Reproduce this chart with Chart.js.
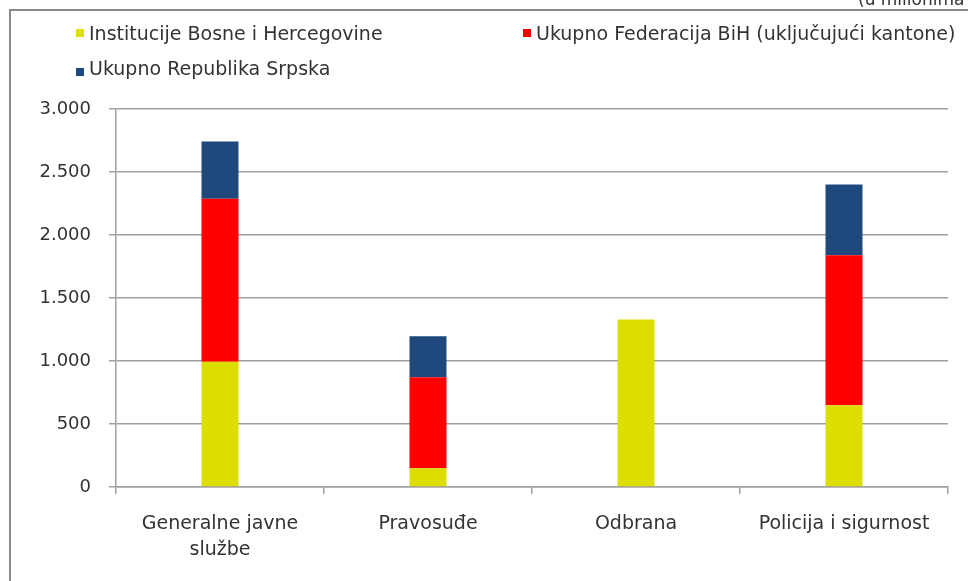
<!DOCTYPE html>
<html>
<head>
<meta charset="utf-8">
<script src="https://cdn.jsdelivr.net/npm/chart.js@4/dist/chart.umd.min.js"></script>
<style>
  html, body { margin: 0; padding: 0; background: #fff; }
  #wrap { position: relative; width: 968px; height: 581px; }
</style>
</head>
<body>
<div id="wrap"><canvas id="c" width="968" height="581"></canvas></div>
<script>
// ---- data ----
const categories = [['Generalne javne', 'službe'], 'Pravosuđe', 'Odbrana', 'Policija i sigurnost'];
const seriesNames = ['Institucije Bosne i Hercegovine', 'Ukupno Federacija BiH (uključujući kantone)', 'Ukupno Republika Srpska'];
const institucijeBiH = [995, 148, 1329, 649];
const federacijaBiH = [1292, 723, 0, 1191];
const republikaSrpska = [456, 326, 0, 561];
const yTicks = [0, 500, 1000, 1500, 2000, 2500, 3000];
const unitNote = '(u milionima KM)';

const colors = ['#DDDD00', '#FF0000', '#1F497D'];
const FONT = 'DejaVu Sans';
const TEXT = '#333333';

const fmt = v => v.toString().replace(/\B(?=(\d{3})+(?!\d))/g, '.');

const decor = {
  id: 'decor',
  afterDraw(chart) {
    const ctx = chart.ctx;
    ctx.save();
    // frame
    ctx.strokeStyle = '#8a8a8a';
    ctx.lineWidth = 2;
    ctx.beginPath();
    ctx.moveTo(10, 581);
    ctx.lineTo(10, 10);
    ctx.lineTo(968, 10);
    ctx.stroke();
    // unit note (clipped at top)
    ctx.fillStyle = TEXT;
    ctx.font = '17px "' + FONT + '"';
    ctx.textBaseline = 'alphabetic';
    ctx.textAlign = 'left';
    ctx.fillText(unitNote, 858, 5);
    // legend
    const items = [
      { x: 76, y: 33, i: 0 },
      { x: 523, y: 33, i: 1 },
      { x: 76, y: 72, i: 2 }
    ];
    ctx.font = '19px "' + FONT + '"';
    items.forEach(it => {
      ctx.fillStyle = colors[it.i];
      ctx.fillRect(it.x, it.y - 4, 8, 8);
      ctx.fillStyle = TEXT;
      ctx.fillText(chart.data.datasets[it.i].label, it.x + 13, it.y + (it.i === 2 ? 3 : 7));
    });
    ctx.restore();
  }
};

new Chart(document.getElementById('c'), {
  type: 'bar',
  data: {
    labels: categories,
    datasets: [
      { label: seriesNames[0], data: institucijeBiH, backgroundColor: colors[0] },
      { label: seriesNames[1], data: federacijaBiH, backgroundColor: colors[1] },
      { label: seriesNames[2], data: republikaSrpska, backgroundColor: colors[2] }
    ]
  },
  options: {
    responsive: false,
    animation: false,
    layout: { padding: { left: 0, top: 109, right: 20, bottom: 0 } },
    plugins: { legend: { display: false }, tooltip: { enabled: false } },
    datasets: { bar: { categoryPercentage: 1, barPercentage: 37 / 208 } },
    scales: {
      x: {
        stacked: true,
        afterFit(s) { s.height = 94; },
        grid: { offset: true, drawOnChartArea: false, drawTicks: true, tickLength: 7, color: '#a0a0a0', lineWidth: 1.5 },
        border: { display: true, color: '#a0a0a0', width: 1.5 },
        ticks: { color: TEXT, padding: 17, font: { family: FONT, size: 19, lineHeight: 1.37 }, maxRotation: 0, autoSkip: false }
      },
      y: {
        stacked: true,
        min: 0, max: 3000,
        afterFit(s) { s.width = 116; },
        afterBuildTicks(s) { s.ticks = yTicks.map(v => ({ value: v })); },
        grid: { color: '#a0a0a0', lineWidth: 1.5, tickLength: 7, drawTicks: true },
        border: { display: true, color: '#a0a0a0', width: 1.5 },
        ticks: { color: TEXT, padding: 18, font: { family: FONT, size: 18 }, callback: v => fmt(v) }
      }
    }
  },
  plugins: [decor]
});
</script>
</body>
</html>
